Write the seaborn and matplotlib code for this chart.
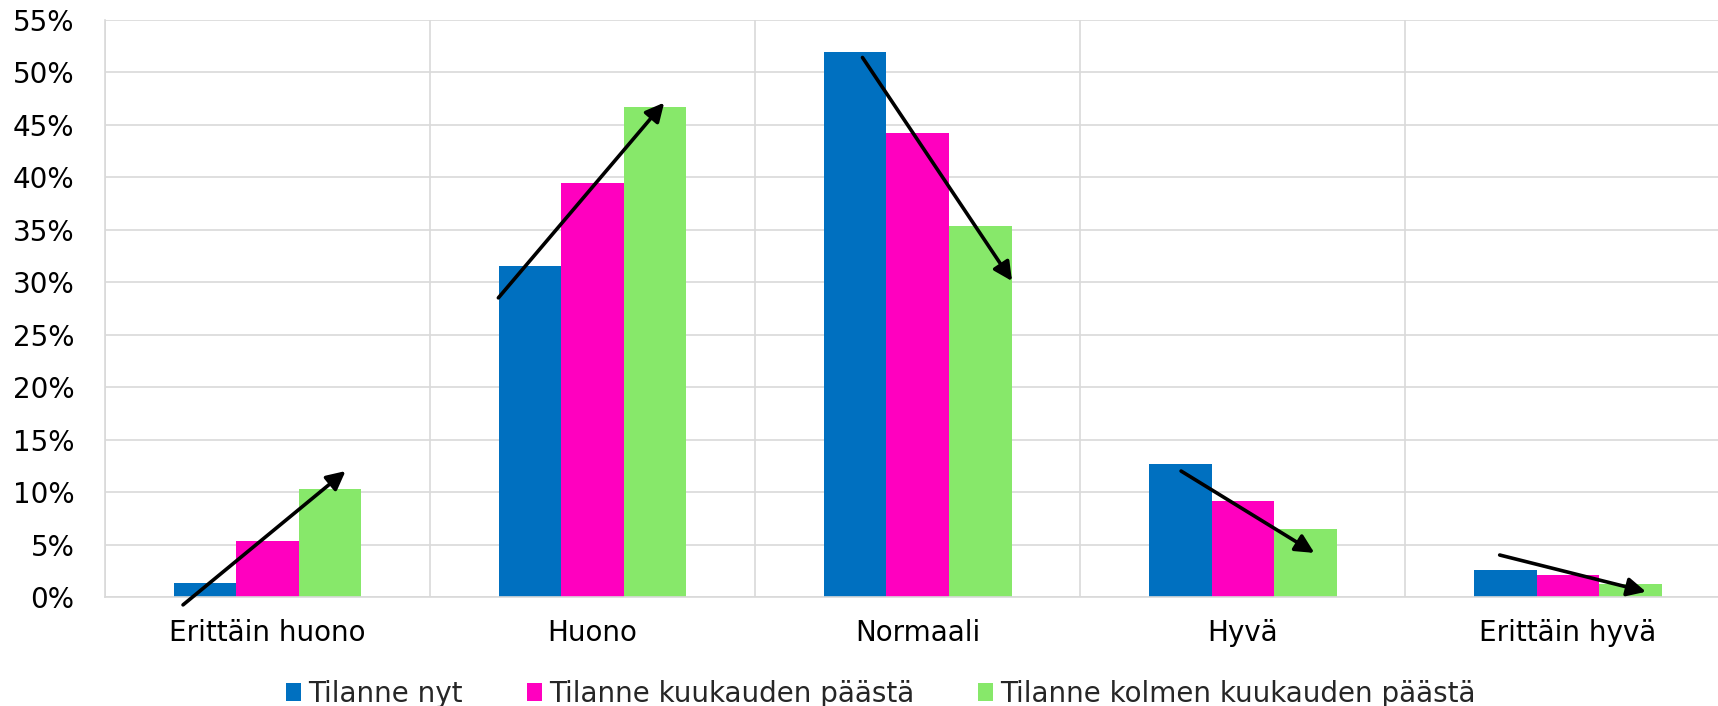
import numpy as np
import pandas as pd
import matplotlib
matplotlib.use("Agg")
import matplotlib.pyplot as plt
import seaborn as sns

categories = ["Erittäin huono", "Huono", "Normaali", "Hyvä", "Erittäin hyvä"]
series_names = ["Tilanne nyt", "Tilanne kuukauden päästä", "Tilanne kolmen kuukauden päästä"]
tilanne_nyt = [1.35, 31.5, 51.9, 12.7, 2.55]
kuukauden_paasta = [5.3, 39.4, 44.2, 9.1, 2.05]
kolmen_kuukauden_paasta = [10.3, 46.7, 35.3, 6.5, 1.2]
y_ticks = list(range(0, 56, 5))
colors = ["#0070C0", "#FF00BF", "#87E86A"]

# trend arrows (annotation): offsets from category centre, (dx_start, y_start, dx_end, y_end)
arrows = [
    (-0.26, -0.75, 0.24, 12.0),
    (-0.29, 28.5, 0.22, 47.1),
    (-0.17, 51.4, 0.29, 30.1),
    (-0.19, 12.0, 0.22, 4.2),
    (-0.21, 4.0, 0.24, 0.5),
]

rows = []
for name, vals in zip(series_names, [tilanne_nyt, kuukauden_paasta, kolmen_kuukauden_paasta]):
    for c, v in zip(categories, vals):
        rows.append({"cat": c, "val": v, "series": name})
df = pd.DataFrame(rows)

sns.set_theme(style="white")
plt.rcParams["font.family"] = ["DejaVu Sans"]

fig = plt.figure(figsize=(17.18, 7.06), dpi=100)
ax = fig.add_axes([105 / 1718, 1 - 597 / 706, 1625.5 / 1718, (597 - 19.7) / 706])

sns.barplot(data=df, x="cat", y="val", hue="series", order=categories,
            hue_order=series_names, palette=colors, width=0.577,
            saturation=1, linewidth=0, ax=ax, legend=True, errorbar=None)

ax.set_xlim(-0.5, 4.5)
ax.set_ylim(0, 55)
ax.set_yticks(y_ticks)
ax.set_yticklabels([f"{t}%" for t in y_ticks])
ax.set_xticks(np.arange(-0.5, 5, 1), minor=True)
ax.set_xlabel("")
ax.set_ylabel("")

gcol = "#D9D9D9"
ax.grid(axis="y", which="major", color=gcol, lw=1.2)
ax.grid(axis="x", which="minor", color=gcol, lw=1.2)
ax.grid(axis="x", which="major", visible=False)
ax.set_axisbelow(True)
for s in ["top", "right"]:
    ax.spines[s].set_visible(False)
for s in ["left", "bottom"]:
    ax.spines[s].set_color(gcol)
    ax.spines[s].set_linewidth(1.2)

ax.tick_params(axis="x", which="both", length=0, pad=16, labelsize=20, colors="black")
ax.tick_params(axis="y", which="both", length=0, pad=22, labelsize=20, colors="black")

for i, (x0, y0, x1, y1) in enumerate(arrows):
    ax.annotate("", xy=(i + x1, y1), xytext=(i + x0, y0),
                arrowprops=dict(arrowstyle="-|>", color="black", lw=2.6,
                                mutation_scale=28, shrinkA=0, shrinkB=0),
                annotation_clip=False)

handles, labels = ax.get_legend_handles_labels()
ax.get_legend().remove()
fig.legend(handles, labels, loc="center", bbox_to_anchor=(881 / 1718, 1 - 694 / 706),
           ncol=3, frameon=False, fontsize=20, handlelength=0.55, handleheight=0.6,
           handletextpad=0.25, columnspacing=2.3, borderaxespad=0, borderpad=0)

fig.savefig("out.png", dpi=100)
